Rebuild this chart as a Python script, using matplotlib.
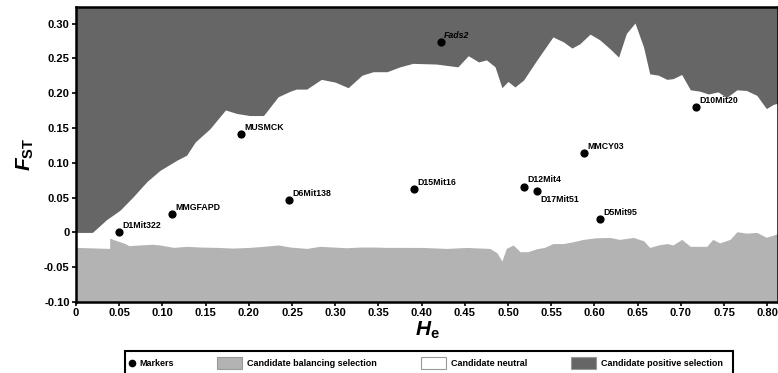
import numpy as np
import matplotlib
matplotlib.use('Agg')
import matplotlib.pyplot as plt
from matplotlib.patches import Rectangle
from matplotlib.lines import Line2D

plt.rcParams.update({
    'font.family': ['Liberation Sans', 'DejaVu Sans'],
    'font.weight': 'bold',
    'mathtext.fontset': 'custom',
    'mathtext.it': 'Liberation Sans:italic:bold',
    'mathtext.rm': 'Liberation Sans:bold',
    'mathtext.bf': 'Liberation Sans:bold',
})

# upper edge of the neutral envelope (above = candidate positive selection)
upper_he = [0, 0.019, 0.035, 0.051, 0.066, 0.082, 0.097, 0.117, 0.128, 0.138,
            0.155, 0.173, 0.186, 0.201, 0.217, 0.234, 0.248, 0.255, 0.267, 0.284,
            0.300, 0.315, 0.331, 0.344, 0.360, 0.375, 0.390, 0.417, 0.442, 0.454,
            0.466, 0.475, 0.485, 0.493, 0.500, 0.508, 0.518, 0.533, 0.552, 0.564,
            0.574, 0.583, 0.595, 0.606, 0.618, 0.628, 0.637, 0.647, 0.657, 0.664,
            0.674, 0.684, 0.691, 0.701, 0.711, 0.722, 0.732, 0.743, 0.753, 0.765,
            0.776, 0.788, 0.799, 0.807, 0.813]
upper_fst = [0, 0, 0.018, 0.032, 0.051, 0.073, 0.089, 0.104, 0.111, 0.130,
             0.149, 0.176, 0.171, 0.168, 0.168, 0.195, 0.203, 0.206, 0.206, 0.220,
             0.216, 0.208, 0.226, 0.231, 0.231, 0.238, 0.243, 0.242, 0.238, 0.254,
             0.245, 0.248, 0.238, 0.208, 0.217, 0.209, 0.219, 0.247, 0.281, 0.274,
             0.265, 0.271, 0.285, 0.277, 0.264, 0.252, 0.286, 0.301, 0.266, 0.228,
             0.226, 0.220, 0.221, 0.227, 0.205, 0.203, 0.199, 0.202, 0.194, 0.205,
             0.204, 0.197, 0.178, 0.184, 0.186]

# lower edge of the neutral envelope (below = candidate balancing selection)
lower_he = [0, 0.039, 0.039, 0.045, 0.057, 0.061, 0.074, 0.088, 0.097, 0.113,
            0.128, 0.144, 0.163, 0.182, 0.201, 0.217, 0.234, 0.248, 0.267, 0.282,
            0.298, 0.313, 0.329, 0.344, 0.360, 0.375, 0.402, 0.429, 0.452, 0.479,
            0.487, 0.493, 0.498, 0.506, 0.514, 0.523, 0.533, 0.542, 0.552, 0.564,
            0.575, 0.587, 0.602, 0.618, 0.629, 0.645, 0.657, 0.664, 0.674, 0.684,
            0.691, 0.701, 0.711, 0.722, 0.730, 0.737, 0.745, 0.757, 0.765, 0.776,
            0.788, 0.799, 0.807, 0.813]
lower_fst = [-0.0215, -0.023, -0.008, -0.011, -0.016, -0.019, -0.018, -0.017, -0.018, -0.0215,
             -0.020, -0.021, -0.0215, -0.0225, -0.0215, -0.020, -0.018, -0.021, -0.023, -0.020,
             -0.021, -0.022, -0.021, -0.021, -0.0215, -0.0215, -0.0216, -0.023, -0.0216, -0.023,
             -0.029, -0.041, -0.023, -0.018, -0.0277, -0.0277, -0.0235, -0.0216, -0.016, -0.016,
             -0.0135, -0.010, -0.0077, -0.0072, -0.010, -0.0072, -0.012, -0.0216, -0.018, -0.016,
             -0.018, -0.010, -0.020, -0.020, -0.020, -0.010, -0.015, -0.010, 0.001, -0.001,
             0.000, -0.007, -0.004, -0.001]

marker_names = ['D1Mit322', 'MMGFAPD', 'MUSMCK', 'D6Mit138', 'Fads2', 'D15Mit16',
                'D12Mit4', 'D17Mit51', 'MMCY03', 'D5Mit95', 'D10Mit20']
marker_he = [0.050, 0.111, 0.191, 0.246, 0.422, 0.391, 0.518, 0.534, 0.588, 0.606, 0.718]
marker_fst = [0.001, 0.027, 0.142, 0.046, 0.274, 0.062, 0.066, 0.059, 0.114, 0.0195, 0.180]

legend_labels = ['Markers', 'Candidate balancing selection', 'Candidate neutral',
                 'Candidate positive selection']

DARK = '#666666'
LIGHT = '#b3b3b3'
W, H = 778, 373

fig = plt.figure(figsize=(W / 100, H / 100), dpi=100)
ax = fig.add_axes([76 / W, 1 - 302 / H, (W - 76) / W, 295 / H])

YMIN, YMAX = -0.10, 0.324
XMAX = 0.8125
ax.fill_between(upper_he, upper_fst, YMAX, color=DARK, lw=0, zorder=1)
ax.fill_between(lower_he, YMIN, lower_fst, color=LIGHT, lw=0, zorder=1)

ax.scatter(marker_he, marker_fst, s=24, color='black', zorder=3)
for name, x, y in zip(marker_names, marker_he, marker_fst):
    below = name == 'D17Mit51'
    ax.annotate(name, (x, y), xytext=(2.5, -2.5 if below else 1.5),
                textcoords='offset points', fontsize=6.3, fontweight='bold',
                fontstyle='italic' if name == 'Fads2' else 'normal',
                ha='left', va='top' if below else 'bottom', zorder=4)

ax.set_xlim(0, XMAX)
ax.set_ylim(YMIN, YMAX)
xt = np.round(np.arange(0, 0.81, 0.05), 2)
ax.set_xticks(xt)
ax.set_xticklabels(['0'] + [f'{v:.2f}' for v in xt[1:]])
yt = np.round(np.arange(-0.10, 0.31, 0.05), 2)
ax.set_yticks(yt)
ax.set_yticklabels(['0' if abs(v) < 1e-9 else f'{v:.2f}' for v in yt])
ax.tick_params(direction='out', length=3, width=1.2, labelsize=8, pad=1.5)
for sp in ax.spines.values():
    sp.set_linewidth(1.8)

ax.set_ylabel(r'$F_{\mathrm{ST}}$', fontsize=15, labelpad=6)
ax.set_xlabel(r'$H_{\mathrm{e}}$', fontsize=15, labelpad=1)


# legend drawn by hand in figure pixels (box runs off the bottom)
def px(x, y):
    return x / W, 1 - y / H


bx, by = px(125, 351)
fig.patches.append(Rectangle((bx, by - 40 / H), (733 - 125) / W, 40 / H,
                             transform=fig.transFigure, fill=False,
                             edgecolor='black', lw=1.5))
ty = px(0, 363)[1]
fig.lines.append(Line2D([132 / W], [ty], marker='o', ms=4.5, color='black',
                        transform=fig.transFigure))
patch_pos = [(217, LIGHT), (421, 'white'), (571, DARK)]
for x0, c in patch_pos:
    fig.patches.append(Rectangle(px(x0, 369), 25 / W, 12 / H,
                                 transform=fig.transFigure, facecolor=c,
                                 edgecolor='#999999', lw=0.8))
text_x = [139, 247, 451, 601]
for x0, lab in zip(text_x, legend_labels):
    fig.text(x0 / W, ty, lab, fontsize=6.5, fontweight='bold', va='center', ha='left')

fig.savefig('out.png', dpi=100)
